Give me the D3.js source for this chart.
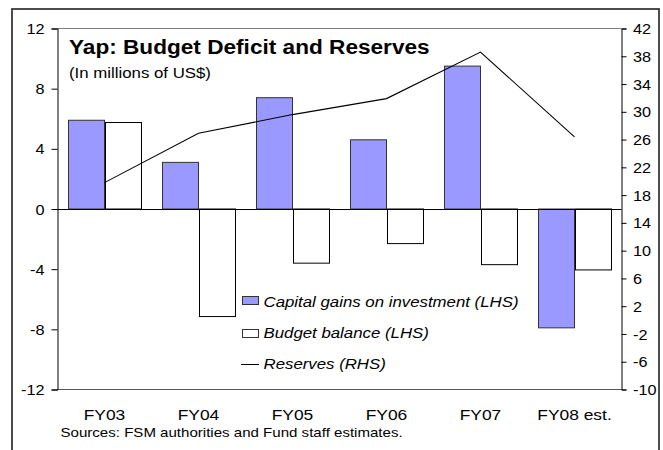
<!DOCTYPE html>
<html>
<head>
<meta charset="utf-8">
<script src="https://cdn.jsdelivr.net/npm/d3@7"></script>
<style>
  html, body { margin: 0; padding: 0; background: #fff; }
  svg { display: block; font-family: "Liberation Sans", Arial, sans-serif; }
</style>
</head>
<body>
<svg id="chart" width="663" height="450"></svg>
<script>
// Fiscal years on the category axis
const categories = ["FY03", "FY04", "FY05", "FY06", "FY07", "FY08 est."];
// Millions of US$, left-hand scale
const capitalGains = [5.9, 3.1, 7.4, 4.6, 9.5, -7.9];
const budgetBalance = [5.75, -7.15, -3.6, -2.3, -3.7, -4.05];
// Millions of US$, right-hand scale
const reserves = [19.8, 26.9, 29.6, 31.9, 38.6, 26.4];

const leftTicks = [12, 8, 4, 0, -4, -8, -12];
const rightTicks = [42, 38, 34, 30, 26, 22, 18, 14, 10, 6, 2, -2, -6, -10];

const seriesLabels = [
  "Capital gains on investment (LHS)",
  "Budget balance (LHS)",
  "Reserves (RHS)"
];
const titleText = "Yap: Budget Deficit and Reserves";
const subtitleText = "(In millions of US$)";
const sourceText = "Sources: FSM authorities and Fund staff estimates.";

// Layout
const SX = 1.16; // horizontal text widening used throughout
const plot = { left: 57.5, right: 621.5, top: 28.5, bottom: 389.5 };
const plainNumber = d => String(d); // ASCII hyphen for negatives

const svg = d3.select("#chart");

// Outer frame
svg.append("rect")
  .attr("x", 12).attr("y", 9)
  .attr("width", 647).attr("height", 460)
  .attr("fill", "none")
  .attr("stroke", "#3a3a3a")
  .attr("stroke-width", 1.8);

// Scales
const x = d3.scaleBand().domain(categories).range([plot.left, plot.right]).padding(0);
const groupW = x.bandwidth() * 0.772;
const xs = d3.scaleBand().domain(["cap", "bal"]).range([0, groupW]).padding(0);
const yL = d3.scaleLinear().domain([-12, 12]).range([plot.bottom, plot.top]);
const yR = d3.scaleLinear().domain([-10, 42]).range([plot.bottom, plot.top]);

function groupStart(c) { return x(c) + (x.bandwidth() - groupW) / 2; }

// Plot-area border (top and bottom)
svg.append("line")
  .attr("x1", plot.left).attr("x2", plot.right)
  .attr("y1", plot.top).attr("y2", plot.top)
  .attr("stroke", "#7f7f7f");
svg.append("line")
  .attr("x1", plot.left).attr("x2", plot.right)
  .attr("y1", plot.bottom).attr("y2", plot.bottom)
  .attr("stroke", "#555");

// Bars
const bars = svg.append("g");
bars.selectAll("rect.cap")
  .data(categories.map((c, i) => ({ c, v: capitalGains[i] })))
  .join("rect")
  .attr("class", "cap")
  .attr("x", d => Math.round(groupStart(d.c) + xs("cap")) + 0.5)
  .attr("width", Math.round(xs.bandwidth()))
  .attr("y", d => yL(Math.max(0, d.v)))
  .attr("height", d => Math.abs(yL(d.v) - yL(0)))
  .attr("fill", "#9999ff")
  .attr("stroke", "#333")
  .attr("stroke-width", 1);

bars.selectAll("rect.bal")
  .data(categories.map((c, i) => ({ c, v: budgetBalance[i] })))
  .join("rect")
  .attr("class", "bal")
  .attr("x", d => Math.round(groupStart(d.c) + xs("bal")) + 0.5)
  .attr("width", Math.round(xs.bandwidth()))
  .attr("y", d => yL(Math.max(0, d.v)))
  .attr("height", d => Math.abs(yL(d.v) - yL(0)))
  .attr("fill", "#ffffff")
  .attr("stroke", "#000")
  .attr("stroke-width", 1);

// Zero line (category axis)
svg.append("line")
  .attr("x1", plot.left).attr("x2", plot.right)
  .attr("y1", Math.round(yL(0)) + 0.5).attr("y2", Math.round(yL(0)) + 0.5)
  .attr("stroke", "#000");

// Reserves line on the right-hand scale
const line = d3.line()
  .x((d, i) => x(categories[i]) + x.bandwidth() / 2)
  .y(d => yR(d));
svg.append("path")
  .datum(reserves)
  .attr("d", line)
  .attr("fill", "none")
  .attr("stroke", "#000")
  .attr("stroke-width", 1.1);

// Left axis
const axL = svg.append("g")
  .attr("transform", `translate(${plot.left},0)`)
  .call(d3.axisLeft(yL).tickValues(leftTicks).tickSize(6).tickPadding(0).tickFormat(plainNumber))
  .attr("font-family", null)
  .attr("font-size", null);
axL.select(".domain").attr("stroke", "#000");
axL.selectAll(".tick line").attr("stroke", "#000");
axL.selectAll(".tick text")
  .attr("x", null)
  .attr("dy", "0.36em")
  .attr("transform", `translate(-13,0) scale(${SX},1)`)
  .attr("font-size", 14)
  .attr("fill", "#000");

// Right axis
const axR = svg.append("g")
  .attr("transform", `translate(${plot.right},0)`)
  .call(d3.axisRight(yR).tickValues(rightTicks).tickSize(5).tickPadding(0).tickFormat(plainNumber))
  .attr("font-family", null)
  .attr("font-size", null);
axR.select(".domain").attr("stroke", "#000");
axR.selectAll(".tick line").attr("stroke", "#000");
axR.selectAll(".tick text")
  .attr("x", null)
  .attr("dy", "0.36em")
  .attr("transform", `translate(11.5,0) scale(${SX},1)`)
  .attr("font-size", 14)
  .attr("fill", "#000");

// Category labels along the bottom
const axB = svg.append("g")
  .attr("transform", `translate(0,${plot.bottom})`)
  .call(d3.axisBottom(x).tickSize(0).tickPadding(0))
  .attr("font-family", null)
  .attr("font-size", null);
axB.select(".domain").remove();
axB.selectAll(".tick text")
  .attr("y", null)
  .attr("dy", null)
  .attr("transform", `translate(0,30.5) scale(${SX},1)`)
  .attr("font-size", 15)
  .attr("fill", "#000");

// Text helper: left-anchored, widened horizontally
function label(txt, x0, y0, size, opts = {}) {
  return svg.append("text")
    .attr("transform", `translate(${x0},${y0}) scale(${SX},1)`)
    .attr("font-size", size)
    .attr("font-weight", opts.bold ? "bold" : null)
    .attr("font-style", opts.italic ? "italic" : null)
    .attr("fill", "#000")
    .text(txt);
}

label(titleText, 69, 54, 19.5, { bold: true });
label(subtitleText, 69, 77.5, 14.5);
label(sourceText, 60.5, 436.5, 13);

// Legend
const legend = svg.append("g");
legend.append("rect")
  .attr("x", 242.5).attr("y", 296.5).attr("width", 16).attr("height", 8)
  .attr("fill", "#9999ff").attr("stroke", "#333");
legend.append("rect")
  .attr("x", 242.5).attr("y", 329.5).attr("width", 16).attr("height", 8)
  .attr("fill", "#fff").attr("stroke", "#333");
legend.append("line")
  .attr("x1", 241).attr("x2", 259).attr("y1", 364.5).attr("y2", 364.5)
  .attr("stroke", "#000");
label(seriesLabels[0], 263.5, 306.5, 14.5, { italic: true });
label(seriesLabels[1], 263.5, 338, 14.5, { italic: true });
label(seriesLabels[2], 263.5, 368.5, 14.5, { italic: true });
</script>
</body>
</html>
